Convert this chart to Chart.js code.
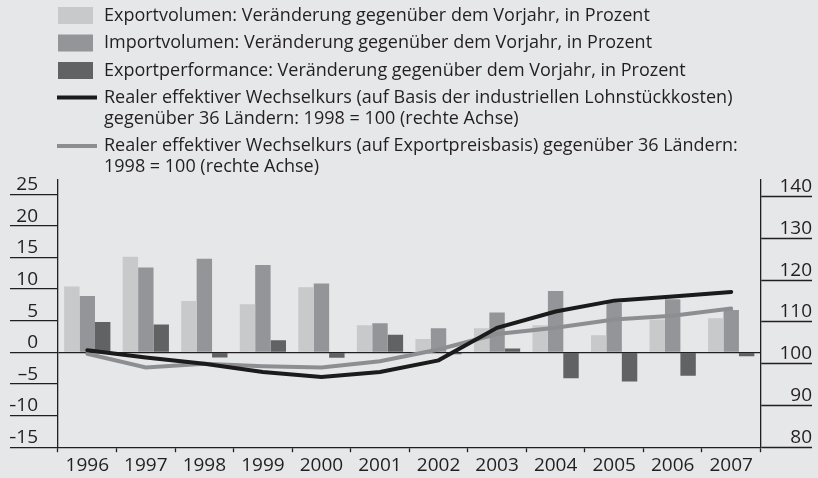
<!DOCTYPE html>
<html>
<head>
<meta charset="utf-8">
<script src="https://cdn.jsdelivr.net/npm/chart.js@4/dist/chart.umd.min.js"></script>
<style>
  html, body { margin: 0; padding: 0; background: #e6e7e8; }
  #wrap { width: 818px; height: 478px; position: relative; }
</style>
</head>
<body>
<div id="wrap"><canvas id="c"></canvas></div>
<script>
// ---- data ----
const years = ['1996','1997','1998','1999','2000','2001','2002','2003','2004','2005','2006','2007'];
const exportVolumen = [10.4, 15.1, 8.1, 7.6, 10.3, 4.3, 2.1, 3.8, 4.3, 2.7, 5.2, 5.4];
const importVolumen = [8.9, 13.4, 14.8, 13.8, 10.9, 4.6, 3.8, 6.3, 9.7, 7.8, 8.4, 6.7];
const exportPerformance = [4.8, 4.4, -0.8, 1.9, -0.85, 2.8, -0.3, 0.6, -4.1, -4.6, -3.7, -0.6];
const wechselkursLohn = [103.2, 101.5, 100, 98.0, 96.8, 98.0, 100.8, 108.6, 112.5, 115.1, 116.1, 117.2];
const wechselkursExport = [102.4, 99.1, 100, 99.4, 99.1, 100.6, 103.4, 107.1, 108.6, 110.6, 111.5, 113.2];
const leftTicks = [-15, -10, -5, 0, 5, 10, 15, 20, 25];
const rightTicks = [80, 90, 100, 110, 120, 130, 140];

const labelExportVol = 'Exportvolumen: Veränderung gegenüber dem Vorjahr, in Prozent';
const labelImportVol = 'Importvolumen: Veränderung gegenüber dem Vorjahr, in Prozent';
const labelExportPerf = 'Exportperformance: Veränderung gegenüber dem Vorjahr, in Prozent';
const labelLohn = ['Realer effektiver Wechselkurs (auf Basis der industriellen Lohnstückkosten)', 'gegenüber 36 Ländern: 1998 = 100 (rechte Achse)'];
const labelExportpreis = ['Realer effektiver Wechselkurs (auf Exportpreisbasis) gegenüber 36 Ländern:', '1998 = 100 (rechte Achse)'];

const TEXT = '#231f20';
const FONT = '"Open Sans", "Noto Sans", sans-serif';
const C_LIGHT = '#c8c9cb', C_MID = '#949598', C_DARK = '#616264';
const C_BLACK = '#1b1b1b', C_GREY = '#8d8e91';

const fmt = v => (v < 0 ? '\u2013' + Math.abs(v) : String(v));

// custom legend drawn in canvas
const legendPlugin = {
  id: 'customLegend',
  afterDraw(chart) {
    const ctx = chart.ctx;
    const ds = chart.data.datasets;
    const items = [
      { ds: ds[2], y: [15.5] },
      { ds: ds[3], y: [43] },
      { ds: ds[4], y: [70.5] },
      { ds: ds[0], y: [97.5, 119] },
      { ds: ds[1], y: [146, 167] }
    ];
    ctx.save();
    ctx.font = '18px ' + FONT;
    ctx.fillStyle = TEXT;
    ctx.textBaseline = 'middle';
    ctx.textAlign = 'left';
    items.forEach(it => {
      const lines = Array.isArray(it.ds.legendText) ? it.ds.legendText : [it.ds.legendText];
      if (it.ds.type === 'line') {
        ctx.strokeStyle = it.ds.borderColor;
        ctx.lineWidth = 4;
        ctx.beginPath();
        ctx.moveTo(57, it.y[0]);
        ctx.lineTo(97, it.y[0]);
        ctx.stroke();
      } else {
        ctx.fillStyle = it.ds.backgroundColor;
        ctx.fillRect(58, it.y[0] - 8.5, 35, 17);
      }
      ctx.fillStyle = TEXT;
      lines.forEach((t, i) => ctx.fillText(t, 104, it.y[i]));
    });
    ctx.restore();
  }
};

function build() {
  new Chart(document.getElementById('c'), {
    data: {
      labels: years,
      datasets: [
        { type: 'line', label: labelLohn.join(' '), legendText: labelLohn, data: wechselkursLohn, yAxisID: 'y1',
          borderColor: C_BLACK, borderWidth: 4, pointRadius: 0, tension: 0, order: 0, borderCapStyle: 'round' },
        { type: 'line', label: labelExportpreis.join(' '), legendText: labelExportpreis, data: wechselkursExport, yAxisID: 'y1',
          borderColor: C_GREY, borderWidth: 4, pointRadius: 0, tension: 0, order: 0, borderCapStyle: 'round' },
        { type: 'bar', label: labelExportVol, legendText: labelExportVol, data: exportVolumen, yAxisID: 'y',
          backgroundColor: C_LIGHT, order: 1 },
        { type: 'bar', label: labelImportVol, legendText: labelImportVol, data: importVolumen, yAxisID: 'y',
          backgroundColor: C_MID, order: 1 },
        { type: 'bar', label: labelExportPerf, legendText: labelExportPerf, data: exportPerformance, yAxisID: 'y',
          backgroundColor: C_DARK, order: 1 }
      ]
    },
    options: {
      responsive: true,
      maintainAspectRatio: false,
      animation: false,
      layout: { padding: { top: 180, left: 10, right: 6, bottom: 0 } },
      datasets: { bar: { categoryPercentage: 0.79, barPercentage: 1.0, borderWidth: 0 } },
      plugins: { legend: { display: false }, tooltip: { enabled: false } },
      scales: {
        x: {
          type: 'category',
          offset: true,
          border: { display: true, color: TEXT, width: 1.3 },
          grid: { offset: true, drawOnChartArea: false, drawTicks: true, tickLength: 5, tickColor: TEXT, tickWidth: 1.3 },
          ticks: { color: TEXT, font: { family: FONT, size: 19 }, padding: 1.5, maxRotation: 0, autoSkip: false }
        },
        y: {
          type: 'linear', position: 'left',
          min: -15, max: 27.25,
          afterBuildTicks: s => { s.ticks = leftTicks.map(v => ({ value: v })); },
          afterFit: s => { s.width = 48; },
          border: { display: true, color: TEXT, width: 1.3 },
          grid: {
            drawOnChartArea: true, drawTicks: true, tickLength: 48,
            color: c => (c.tick && c.tick.value === 0 ? TEXT : 'rgba(0,0,0,0)'),
            tickColor: TEXT, lineWidth: 1.3, tickWidth: 1.3
          },
          ticks: { color: TEXT, font: { family: FONT, size: 19 }, padding: -28, labelOffset: -9.5, crossAlign: 'near', callback: v => fmt(v) }
        },
        y1: {
          type: 'linear', position: 'right',
          min: 80, max: 144,
          afterBuildTicks: s => { s.ticks = rightTicks.map(v => ({ value: v })); },
          afterFit: s => { s.width = 51.5; },
          border: { display: true, color: TEXT, width: 1.3 },
          grid: { drawOnChartArea: false, drawTicks: true, tickLength: 51.5, tickColor: TEXT, tickWidth: 1.3 },
          ticks: { color: TEXT, font: { family: FONT, size: 19 }, padding: 0, labelOffset: -10, crossAlign: 'far', callback: v => fmt(v) }
        }
      }
    },
    plugins: [legendPlugin]
  });
}

if (document.fonts && document.fonts.load) {
  Promise.all([document.fonts.load('18px "Open Sans"'), document.fonts.load('19px "Open Sans"')])
    .then(build, build);
} else {
  build();
}
</script>
</body>
</html>
